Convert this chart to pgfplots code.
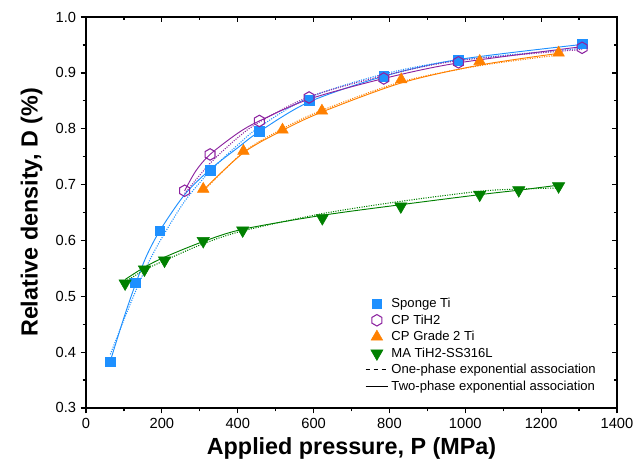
\documentclass[border=0pt]{standalone}
\usepackage{fontspec}
\setmainfont{Liberation Sans}
\usepackage{pgfplots}
\pgfplotsset{compat=1.18}
\definecolor{cblue}{RGB}{30,144,255}
\definecolor{cpurple}{RGB}{140,35,160}
\definecolor{corange}{RGB}{255,128,0}
\definecolor{cgreen}{RGB}{0,128,0}
\pgfdeclareplotmark{hexagon}{%
  \pgfpathmoveto{\pgfqpointpolar{90}{\pgfplotmarksize}}%
  \pgfpathlineto{\pgfqpointpolar{150}{\pgfplotmarksize}}%
  \pgfpathlineto{\pgfqpointpolar{210}{\pgfplotmarksize}}%
  \pgfpathlineto{\pgfqpointpolar{270}{\pgfplotmarksize}}%
  \pgfpathlineto{\pgfqpointpolar{330}{\pgfplotmarksize}}%
  \pgfpathlineto{\pgfqpointpolar{30}{\pgfplotmarksize}}%
  \pgfpathclose\pgfusepathqstroke}
\begin{document}
\begin{tikzpicture}
\pgfplotsset{
  base/.style={
    width=398pt, height=293pt, scale only axis,
    xmin=0, xmax=1400, ymin=0.3, ymax=1.0,
    xtick distance=200, ytick distance=0.1,
    minor x tick num=1, minor y tick num=1,
    major tick length=4pt, minor tick length=2.5pt,
    every tick/.style={black, line width=0.9pt},
    /pgf/number format/assume math mode=true,
    /pgf/number format/1000 sep={},
  }
}
% mirrored ticks, pointing inward
\begin{axis}[base, axis line style={draw=none}, tick align=inside,
  xtick pos=upper, ytick pos=upper, xticklabels={}, yticklabels={}]
\end{axis}
\begin{axis}[base, name=ax,
  axis line style={line width=1pt},
  tick align=outside, xtick pos=lower, ytick pos=lower,
  tick label style={font=\fontsize{11}{13}\selectfont},
  yticklabel style={/pgf/number format/.cd, fixed, fixed zerofill, precision=1},
  xlabel={Applied pressure, P (MPa)},
  ylabel={Relative density, D (\%)},
  ylabel shift=3pt,
  label style={font=\fontsize{17.5}{20}\selectfont\bfseries},
  legend style={draw=none, fill=none, at={(0.973,0.026)}, anchor=south east,
    font=\fontsize{9.8}{12}\selectfont, row sep=-0.2pt},
  legend cell align=left,
]
% fitted curves
\addplot[cblue, line width=0.7pt, smooth, forget plot] coordinates {
(64,0.384) (100,0.462) (130,0.521) (160,0.573) (196,0.619) (260,0.682) (327,0.727)
(400,0.766) (457,0.795) (588,0.848) (785,0.894) (982,0.924) (1308,0.951)};
\addplot[cblue, line width=0.8pt, densely dotted, smooth, forget plot] coordinates {
(64,0.396) (100,0.458) (130,0.508) (160,0.554) (196,0.600) (260,0.670) (327,0.724)
(400,0.771) (457,0.803) (588,0.856) (785,0.898) (982,0.923) (1308,0.944)};
\addplot[cpurple, line width=0.7pt, smooth, forget plot] coordinates {
(260,0.689) (290,0.725) (327,0.754) (400,0.792) (457,0.814) (588,0.853)
(785,0.890) (982,0.918) (1308,0.947)};
\addplot[cpurple, line width=0.8pt, densely dotted, smooth, forget plot] coordinates {
(260,0.684) (327,0.738) (400,0.784) (457,0.812) (588,0.857) (785,0.895)
(982,0.922) (1308,0.942)};
\addplot[corange, line width=0.7pt, smooth, forget plot] coordinates {
(309,0.690) (415,0.757) (518,0.797) (622,0.830) (831,0.882) (1038,0.914) (1246,0.935)};
\addplot[corange, line width=0.8pt, densely dotted, smooth, forget plot] coordinates {
(309,0.688) (415,0.758) (518,0.800) (622,0.833) (831,0.884) (1038,0.913) (1246,0.932)};
\addplot[cgreen, line width=0.7pt, smooth, forget plot] coordinates {
(103,0.530) (154,0.552) (207,0.570) (309,0.598) (413,0.620) (623,0.645)
(830,0.664) (1038,0.682) (1141,0.690) (1246,0.699)};
\addplot[cgreen, line width=0.8pt, densely dotted, smooth, forget plot] coordinates {
(103,0.526) (154,0.547) (207,0.564) (309,0.594) (413,0.617) (623,0.648)
(830,0.670) (1038,0.688) (1141,0.692) (1246,0.694)};
% data
\addplot[only marks, mark=square*, mark size=3.6pt, color=cblue] coordinates {
(64,0.383) (130,0.524) (194,0.617) (327,0.726) (457,0.796) (588,0.851)
(785,0.894) (982,0.923) (1308,0.952)};
\addlegendentry{Sponge Ti}
\addplot[only marks, mark=hexagon, mark size=4.3pt, color=cpurple, line width=0.8pt] coordinates {
(260,0.689) (327,0.754) (457,0.814) (588,0.856) (785,0.890) (982,0.919) (1308,0.945)};
\addlegendentry{CP TiH2}
\addplot[only marks, mark=triangle*, mark size=5pt, color=corange] coordinates {
(309,0.692) (415,0.760) (518,0.798) (622,0.832) (831,0.888) (1038,0.921) (1246,0.936)};
\addlegendentry{CP Grade 2 Ti}
\addplot[only marks, mark=triangle*, mark size=5.3pt, color=cgreen,
  mark options={rotate=180}] coordinates {
(103,0.523) (154,0.548) (207,0.564) (309,0.599) (413,0.618) (623,0.640)
(830,0.661) (1038,0.682) (1141,0.690) (1246,0.697)};
\addlegendentry{MA TiH2-SS316L}
\addlegendimage{black, dashed, line width=0.8pt}
\addlegendentry{One-phase exponential association}
\addlegendimage{black, line width=0.8pt}
\addlegendentry{Two-phase exponential association}
\end{axis}
\pgfresetboundingbox
\path ([shift={(-64.5pt,-47.3pt)}]ax.south west) rectangle ([shift={(13.5pt,12.8pt)}]ax.north east);
\end{tikzpicture}
\end{document}
